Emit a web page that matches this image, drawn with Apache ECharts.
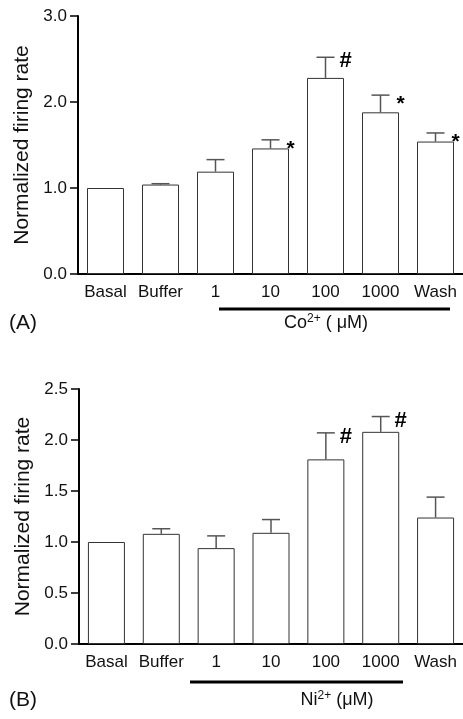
<!DOCTYPE html>
<html>
<head>
<meta charset="utf-8">
<script src="https://cdn.jsdelivr.net/npm/echarts@6/dist/echarts.min.js"></script>
<style>
  html, body { margin: 0; padding: 0; background: #fff; }
  #chart { width: 463px; height: 719px; }
</style>
</head>
<body>
<div id="chart"></div>
<script>
// categories shared by both panels
const categories = ['Basal', 'Buffer', '1', '10', '100', '1000', 'Wash']

// panel A: Co2+
const coMean = [1.00, 1.04, 1.19, 1.46, 2.28, 1.88, 1.54]
const coSem = [0, 0.01, 0.14, 0.10, 0.24, 0.20, 0.10]
const coMarks = ['', '', '', '*', '#', '*', '*']
const coTicks = [0, 1, 2, 3]

// panel B: Ni2+
const niMean = [1.00, 1.08, 0.94, 1.09, 1.81, 2.08, 1.24]
const niSem = [0, 0.05, 0.12, 0.13, 0.26, 0.15, 0.20]
const niMarks = ['', '', '', '', '#', '#', '']
const niTicks = [0, 0.5, 1, 1.5, 2, 2.5]

const FONT = 'Liberation Sans, Arial, Helvetica, sans-serif'
const chart = echarts.init(document.getElementById('chart'))

function yAxisOf(gridIndex, ticks) {
  return {
    type: 'value',
    gridIndex: gridIndex,
    min: ticks[0],
    max: ticks[ticks.length - 1],
    interval: ticks[1] - ticks[0],
    name: 'Normalized firing rate',
    nameLocation: 'middle',
    nameGap: 42,
    nameTextStyle: { fontFamily: FONT, fontSize: 21, color: '#111' },
    splitLine: { show: false },
    axisLine: { show: true, lineStyle: { color: '#000', width: 2 } },
    axisTick: { show: true, length: 8, lineStyle: { color: '#000', width: 1.5 } },
    axisLabel: {
      margin: 11,
      fontFamily: FONT,
      fontSize: 17,
      color: '#111',
      formatter: function (v) { return v.toFixed(1) }
    }
  }
}

function xAxisOf(gridIndex) {
  return {
    type: 'category',
    gridIndex: gridIndex,
    data: categories,
    axisLine: { show: true, lineStyle: { color: '#000', width: 2 } },
    axisTick: { show: false },
    axisLabel: { margin: 10, fontFamily: FONT, fontSize: 17, color: '#111', interval: 0 }
  }
}

function barSeries(idx, values) {
  return {
    type: 'bar',
    xAxisIndex: idx,
    yAxisIndex: idx,
    data: values,
    barWidth: 37,
    itemStyle: { color: '#fff', borderColor: '#333', borderWidth: 1 },
    silent: true
  }
}

// error bar (upper half only) plus significance mark
function errSeries(idx, means, sems, marks) {
  return {
    type: 'custom',
    xAxisIndex: idx,
    yAxisIndex: idx,
    z: 5,
    silent: true,
    data: means.map(function (m, i) { return [i, m, m + sems[i]] }),
    renderItem: function (params, api) {
      const i = api.value(0)
      const base = api.coord([i, api.value(1)])
      const top = api.coord([i, api.value(2)])
      const children = []
      if (api.value(2) > api.value(1)) {
        children.push({
          type: 'line',
          shape: { x1: base[0], y1: base[1], x2: top[0], y2: top[1] },
          style: { stroke: '#555', lineWidth: 1.5 }
        })
        children.push({
          type: 'line',
          shape: { x1: top[0] - 9, y1: top[1], x2: top[0] + 9, y2: top[1] },
          style: { stroke: '#555', lineWidth: 1.5 }
        })
      }
      const mk = marks[params.dataIndex]
      if (mk) {
        children.push({
          type: 'text',
          style: {
            text: mk,
            x: top[0] + 20,
            y: top[1] + (mk === '*' ? 9 : 4),
            align: 'center',
            verticalAlign: 'middle',
            fontFamily: FONT,
            fontSize: mk === '*' ? 21 : 22,
            fontWeight: 'bold',
            fill: '#000'
          }
        })
      }
      return { type: 'group', children: children }
    }
  }
}

const richText = {
  b: { fontFamily: FONT, fontSize: 18, fill: '#111' },
  sup: { fontFamily: FONT, fontSize: 12, fill: '#111', verticalAlign: 'top', padding: [0, 0, 8, 0] }
}

chart.setOption({
  animation: false,
  grid: [
    { left: 78, right: 0, top: 16, height: 258 },
    { left: 79, right: 0, top: 389, height: 255 }
  ],
  xAxis: [xAxisOf(0), xAxisOf(1)],
  yAxis: [yAxisOf(0, coTicks), yAxisOf(1, niTicks)],
  series: [
    barSeries(0, coMean),
    errSeries(0, coMean, coSem, coMarks),
    barSeries(1, niMean),
    errSeries(1, niMean, niSem, niMarks)
  ],
  graphic: [
    { type: 'rect', shape: { x: 219, y: 307.5, width: 231, height: 3 }, style: { fill: '#000' } },
    { type: 'rect', shape: { x: 190, y: 680.5, width: 213, height: 3 }, style: { fill: '#000' } },
    { type: 'text', x: 9, y: 323, style: { text: '(A)', fontFamily: FONT, fontSize: 21, fill: '#111', verticalAlign: 'middle' } },
    { type: 'text', x: 9, y: 700, style: { text: '(B)', fontFamily: FONT, fontSize: 21, fill: '#111', verticalAlign: 'middle' } },
    { type: 'text', x: 326, y: 323, style: { text: '{b|Co}{sup|2+}{b| ( μM)}', rich: richText, align: 'center', verticalAlign: 'middle' } },
    { type: 'text', x: 337, y: 700, style: { text: '{b|Ni}{sup|2+}{b| (μM)}', rich: richText, align: 'center', verticalAlign: 'middle' } }
  ]
})
</script>
</body>
</html>
